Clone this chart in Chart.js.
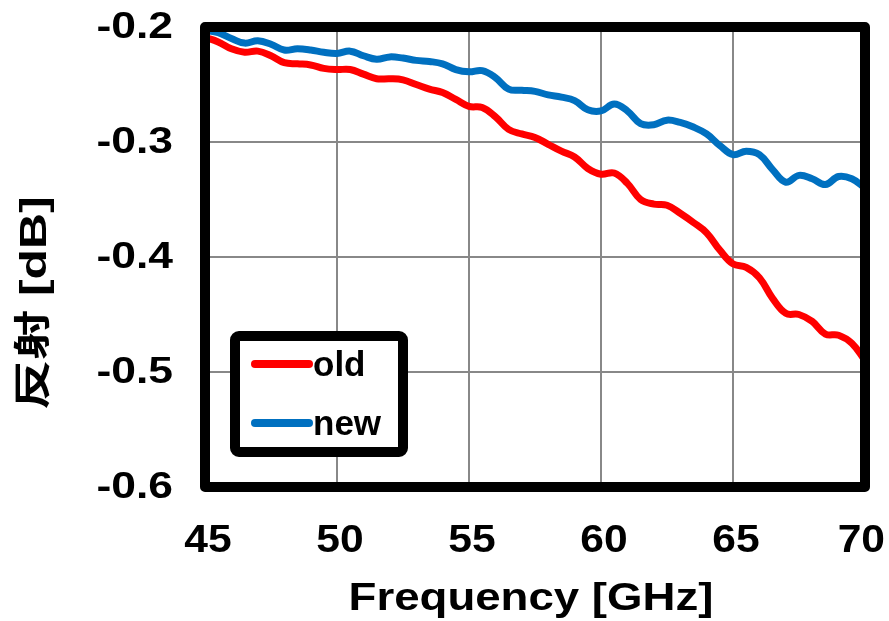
<!DOCTYPE html>
<html lang="ja">
<head>
<meta charset="UTF-8">
<title>反射 vs Frequency</title>
<script src="https://cdn.jsdelivr.net/npm/chart.js"></script>
<style>
  html, body { margin: 0; padding: 0; background: #fff; }
  #wrap { width: 889px; height: 621px; }
</style>
</head>
<body>
<div id="wrap"><canvas id="reflChart" width="889" height="621"></canvas></div>
<script>
// frequency points [GHz]
const freq = [45, 45.5, 46, 46.5, 47, 47.5, 48, 48.5, 49, 49.5,
  50, 50.5, 51, 51.5, 52, 52.5, 53, 53.5, 54, 54.5,
  55, 55.5, 56, 56.5, 57, 57.5, 58, 58.5, 59, 59.5,
  60, 60.5, 61, 61.5, 62, 62.5, 63, 63.5, 64, 64.5,
  65, 65.5, 66, 66.5, 67, 67.5, 68, 68.5, 69, 69.5, 70];

// reflection [dB]
const oldDb = [-0.209, -0.213, -0.219, -0.222, -0.221, -0.225, -0.231, -0.232, -0.233, -0.236,
  -0.237, -0.237, -0.241, -0.245, -0.245, -0.246, -0.250, -0.254, -0.257, -0.263,
  -0.269, -0.270, -0.278, -0.289, -0.293, -0.296, -0.302, -0.308, -0.313, -0.323,
  -0.328, -0.327, -0.336, -0.350, -0.354, -0.355, -0.362, -0.370, -0.379, -0.394,
  -0.406, -0.409, -0.418, -0.436, -0.449, -0.450, -0.456, -0.467, -0.468, -0.475, -0.490];

const newDb = [-0.203, -0.205, -0.210, -0.214, -0.212, -0.215, -0.220, -0.219, -0.220, -0.222,
  -0.223, -0.221, -0.225, -0.228, -0.226, -0.227, -0.229, -0.230, -0.232, -0.237,
  -0.239, -0.238, -0.244, -0.254, -0.255, -0.256, -0.259, -0.261, -0.264, -0.272,
  -0.273, -0.267, -0.273, -0.284, -0.285, -0.281, -0.283, -0.287, -0.293, -0.303,
  -0.311, -0.308, -0.311, -0.324, -0.335, -0.329, -0.332, -0.337, -0.330, -0.332, -0.340];

const xTicks = [45, 50, 55, 60, 65, 70];
const yTicks = ['-0.2', '-0.3', '-0.4', '-0.5', '-0.6'];

const seriesNames = ['old', 'new'];
const seriesColors = ['#ff0000', '#0070c0'];

const FONT = "'Liberation Sans', Arial, sans-serif";

function toPoints(ys) {
  return freq.map((f, i) => ({ x: f, y: ys[i] }));
}

// draw text stretched horizontally around an anchor (axis text in the original is wide)
function wideText(ctx, txt, x, y, align, sx) {
  ctx.save();
  ctx.translate(x, y);
  ctx.scale(sx, 1);
  ctx.textAlign = align;
  ctx.fillText(txt, 0, 0);
  ctx.restore();
}

// thick black frame around the plot area
const framePlugin = {
  id: 'frame',
  afterDatasetsDraw(chart) {
    const { ctx, chartArea: a } = chart;
    ctx.save();
    ctx.strokeStyle = '#000';
    ctx.lineWidth = 10;
    ctx.lineJoin = 'round';
    ctx.strokeRect(a.left, a.top, a.right - a.left, a.bottom - a.top);
    ctx.restore();
  }
};

// boxed legend sitting inside the plot, lower left
const boxLegend = {
  id: 'boxLegend',
  afterDraw(chart) {
    const { ctx, chartArea: a } = chart;
    const x = a.left + 30, y = a.top + 309, w = 168, h = 116;
    ctx.save();
    ctx.fillStyle = '#fff';
    ctx.strokeStyle = '#000';
    ctx.lineWidth = 10;
    ctx.beginPath();
    ctx.roundRect(x, y, w, h, 4);
    ctx.fill();
    ctx.stroke();
    ctx.font = 'bold 35px ' + FONT;
    ctx.textBaseline = 'middle';
    chart.data.datasets.forEach((ds, i) => {
      const ly = y + 28 + i * 59;
      ctx.strokeStyle = ds.borderColor;
      ctx.lineWidth = 8;
      ctx.lineCap = 'round';
      ctx.beginPath();
      ctx.moveTo(x + 20, ly);
      ctx.lineTo(x + 74, ly);
      ctx.stroke();
      ctx.fillStyle = '#000';
      ctx.fillText(ds.label, x + 78, ly + 2);
    });
    ctx.restore();
  }
};

// tick labels and axis titles
const axisText = {
  id: 'axisText',
  afterDraw(chart) {
    const { ctx, chartArea: a, width } = chart;
    const xs = chart.scales.x, ys = chart.scales.y;
    ctx.save();
    ctx.fillStyle = '#000';
    ctx.font = 'bold 37px ' + FONT;
    ctx.textBaseline = 'middle';
    yTicks.forEach(t => {
      wideText(ctx, t, a.left - 32, ys.getPixelForValue(parseFloat(t)) + 1, 'right', 1.2);
    });
    ctx.font = 'bold 38px ' + FONT;
    ctx.textBaseline = 'alphabetic';
    xTicks.forEach(t => {
      const half = ctx.measureText(String(t)).width * 1.12 / 2;
      const cx = Math.min(xs.getPixelForValue(t) + 3, width - half - 4);
      wideText(ctx, String(t), cx, a.bottom + 65, 'center', 1.12);
    });
    ctx.font = 'bold 38px ' + FONT;
    wideText(ctx, 'Frequency [GHz]', (a.left + a.right) / 2 - 4, a.bottom + 123, 'center', 1.2);
    ctx.font = "bold 37px " + FONT + ", 'Noto Sans CJK JP'";
    ctx.translate(36, 303);
    ctx.rotate(-Math.PI / 2);
    ctx.textBaseline = 'middle';
    wideText(ctx, '反射 [dB]', 0, 0, 'center', 1.35);
    ctx.restore();
  }
};

new Chart(document.getElementById('reflChart'), {
  type: 'line',
  data: {
    datasets: [
      { label: seriesNames[0], data: toPoints(oldDb), borderColor: seriesColors[0] },
      { label: seriesNames[1], data: toPoints(newDb), borderColor: seriesColors[1] }
    ]
  },
  options: {
    responsive: false,
    animation: false,
    layout: { padding: { top: 27, right: 24, left: 0, bottom: 0 } },
    elements: {
      line: { borderWidth: 7, tension: 0.4, borderCapStyle: 'round' },
      point: { radius: 0 }
    },
    plugins: { legend: { display: false }, tooltip: { enabled: false } },
    scales: {
      x: {
        type: 'linear',
        min: 45, max: 70,
        grid: { color: '#888', lineWidth: 2, drawTicks: false },
        border: { display: false },
        ticks: { stepSize: 5, display: false },
        afterFit(scale) { scale.height = 134; }
      },
      y: {
        min: -0.6, max: -0.2,
        grid: { color: '#888', lineWidth: 2, drawTicks: false },
        border: { display: false },
        ticks: { stepSize: 0.1, display: false },
        afterFit(scale) { scale.width = 205; }
      }
    }
  },
  plugins: [framePlugin, boxLegend, axisText]
});
</script>
</body>
</html>
